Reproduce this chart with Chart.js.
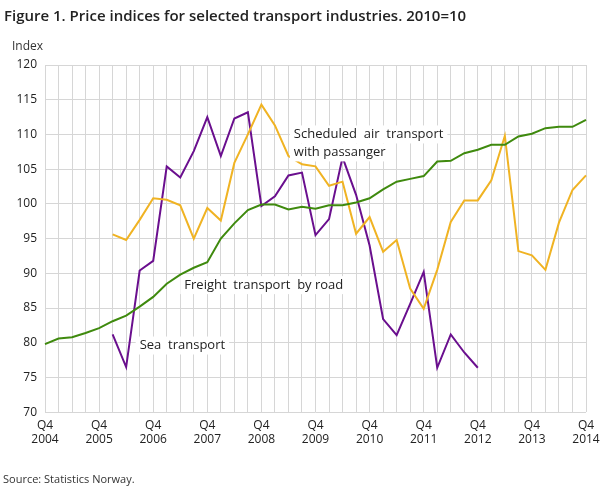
<!DOCTYPE html>
<html><head><meta charset="utf-8">
<script src="https://cdn.jsdelivr.net/npm/chart.js@4/dist/chart.umd.min.js"></script>
<style>
body{margin:0;background:#fff;font-family:"Open Sans",sans-serif;}
#wrap{position:relative;width:609px;height:489px;}
#t{position:absolute;left:4px;top:5px;font-size:15px;font-weight:600;color:#222;}
#u{position:absolute;left:12px;top:37px;font-size:12px;color:#333;}
#s{position:absolute;left:3px;top:471px;font-size:11px;color:#333;}
canvas{position:absolute;left:0;top:0;}
</style></head><body>
<div id="wrap"><canvas id="c" width="609" height="489"></canvas>
<div id="t">Figure 1. Price indices for selected transport industries. 2010=10</div>
<div id="u">Index</div>
<div id="s">Source: Statistics Norway.</div></div>
<script>
const years=[2004,2005,2006,2007,2008,2009,2010,2011,2012,2013,2014];
const categories=[];
years.forEach((y,i)=>{ if(i===0){categories.push(['Q4',String(y)]);} else {['Q1','Q2','Q3'].forEach(q=>categories.push([q,String(y)]));categories.push(['Q4',String(y)]);} });
const freight=[79.8,80.6,80.8,81.4,82.1,83.1,83.9,85.2,86.6,88.5,89.8,90.8,91.6,95.0,97.2,99.1,99.9,99.9,99.2,99.6,99.3,99.8,99.8,100.2,100.8,102.1,103.2,103.6,104.0,106.1,106.2,107.3,107.8,108.5,108.5,109.7,110.1,110.9,111.1,111.1,112.1];
const air=[null,null,null,null,null,95.6,94.8,97.7,100.8,100.6,99.8,95.0,99.4,97.6,105.9,110.0,114.3,111.3,106.9,105.7,105.4,102.6,103.2,95.7,98.1,93.1,94.8,87.8,84.9,90.5,97.4,100.5,100.5,103.4,109.8,93.2,92.6,90.5,97.3,102.0,104.1];
const sea=[null,null,null,null,null,81.2,76.5,90.4,91.8,105.4,103.8,107.6,112.5,106.9,112.3,113.2,99.7,101.1,104.1,104.5,95.5,97.8,106.7,101.3,94.0,83.4,81.1,85.6,90.2,76.4,81.2,78.6,76.4];
const labels=[
 {lines:['Scheduled  air  transport','with passanger'],x:18.4,y:110},
 {lines:['Freight  transport  by road'],x:10.3,y:88.3},
 {lines:['Sea  transport'],x:7,y:79.6}];
const labelPlugin={id:'lbl',afterDatasetsDraw(ch){const c=ch.ctx,xs=ch.scales.x,ys=ch.scales.y;c.save();c.font='13px "Open Sans"';c.textBaseline='middle';
 labels.forEach(l=>{const x0=xs.getPixelForValue(l.x),y0=ys.getPixelForValue(l.y);
  l.lines.forEach((t,i)=>{const w=c.measureText(t).width;const y=y0+i*18;c.fillStyle='#fff';c.fillRect(x0-4,y-9,w+8,18);c.fillStyle='#222';c.fillText(t,x0,y);});});
 c.restore();}};
const ds=(d,col)=>({data:d,borderColor:col,borderWidth:2,pointRadius:0,fill:false,tension:0,spanGaps:false});
new Chart(document.getElementById('c'),{type:'line',
 data:{labels:categories,datasets:[ds(freight,'#3f8a0e'),ds(air,'#f0b323'),ds(sea,'#6a0f8e')]},
 options:{responsive:false,animation:false,layout:{padding:{top:65,right:23,bottom:36,left:0}},
  plugins:{legend:{display:false},tooltip:{enabled:false}},
  scales:{
   x:{grid:{color:'#d6d6d6',drawTicks:false},border:{display:false},
    ticks:{autoSkip:false,maxRotation:0,padding:6,color:'#222',font:{size:12,family:'Open Sans'},
     callback:function(v,i){return i%4===0?categories[i]:'';}}},
   y:{min:70,max:120,afterFit(s){s.width=45;},grid:{color:'#d6d6d6',drawTicks:false},border:{display:false},
    ticks:{stepSize:5,padding:8,color:'#222',font:{size:12,family:'Open Sans'}}}}},
 plugins:[labelPlugin]});
</script></body></html>
